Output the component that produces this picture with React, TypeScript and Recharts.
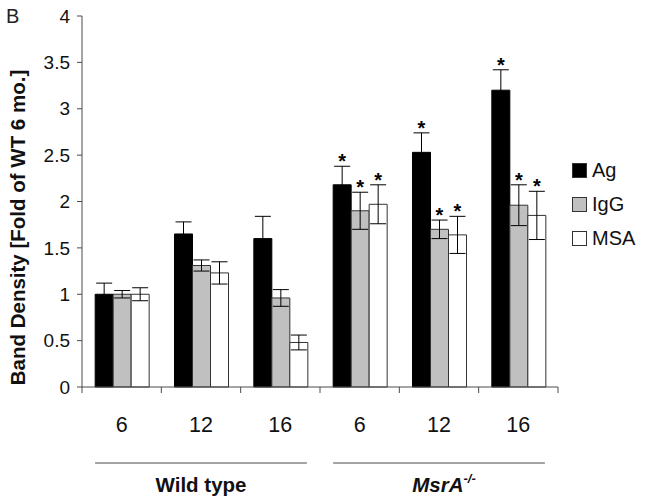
import { BarChart, Bar, XAxis, YAxis, ErrorBar, LabelList, Legend } from 'recharts'

// categories (group + age in months)
const CATEGORIES = ['WT-6', 'WT-12', 'WT-16', 'KO-6', 'KO-12', 'KO-16']
const AGES = ['6', '12', '16', '6', '12', '16']
const GROUP_LABELS = ['Wild type', 'MsrA']
const Y_TICKS = [0, 0.5, 1, 1.5, 2, 2.5, 3, 3.5, 4]

// series values
const AG = [1.0, 1.65, 1.6, 2.18, 2.53, 3.2]
const AG_ERR = [0.12, 0.13, 0.24, 0.2, 0.21, 0.22]
const AG_SIG = [false, false, false, true, true, true]

const IGG = [1.0, 1.31, 0.96, 1.9, 1.7, 1.96]
const IGG_ERR = [0.04, 0.06, 0.09, 0.2, 0.1, 0.22]
const IGG_SIG = [false, false, false, true, true, true]

const MSA = [1.0, 1.23, 0.48, 1.97, 1.64, 1.85]
const MSA_ERR = [0.07, 0.12, 0.08, 0.21, 0.2, 0.26]
const MSA_SIG = [false, false, false, true, true, true]

const SERIES = ['Ag', 'IgG', 'MSA']

const data = CATEGORIES.map((key, i) => ({
  key,
  ag: AG[i],
  agErr: AG_ERR[i],
  igg: IGG[i],
  iggErr: IGG_ERR[i],
  msa: MSA[i],
  msaErr: MSA_ERR[i],
}))

const FONT = '"Liberation Sans", Arial, sans-serif'
const AXIS = '#4a4a4a'
const FILLS = ['#000000', '#c0c0c0', '#ffffff']

function makeStar(errs: number[], sig: boolean[], vals: number[]) {
  return (props: any) => {
    const { x, y, width, height, index } = props
    if (!sig[index]) return null
    const perUnit = height / vals[index]
    const errTop = y - errs[index] * perUnit
    return (
      <text x={x + width / 2} y={errTop + 2} textAnchor="middle" fontSize={20} fontWeight="bold" fontFamily={FONT} fill="#000">
        *
      </text>
    )
  }
}

function AxisTick(props: any) {
  const { x, y, payload, index, width } = props
  const off = payload?.offset ?? width / 12
  const last = index === CATEGORIES.length - 1
  const middle = index % 3 === 1
  const half = off * 0.67
  return (
    <g>
      <line x1={x - off} x2={x - off} y1={y} y2={y + 6} stroke={AXIS} />
      {last && <line x1={x + off} x2={x + off} y1={y} y2={y + 6} stroke={AXIS} />}
      <text x={x} y={y + 45} textAnchor="middle" fontSize={21.5} fontFamily={FONT} fill="#111">
        {AGES[index]}
      </text>
      {middle && (
        <g>
          <line x1={x - 2 * off - half} x2={x + 2 * off + half} y1={y + 76} y2={y + 76} stroke={AXIS} />
          {index === 1 ? (
            <text x={x} y={y + 105} textAnchor="middle" fontSize={20.5} fontWeight="bold" fontFamily={FONT} fill="#111">
              {GROUP_LABELS[0]}
            </text>
          ) : (
            <text x={x + 5} y={y + 105} textAnchor="middle" fontSize={20.5} fontWeight="bold" fontStyle="italic" fontFamily={FONT} fill="#111">
              {GROUP_LABELS[1]}
              <tspan fontSize={13} dy={-9}>-/-</tspan>
            </text>
          )}
        </g>
      )}
    </g>
  )
}

function YTitle(props: any) {
  const vb = props.viewBox ?? { x: 0, y: 16, width: 82, height: 371 }
  const cx = vb.x + 17
  const cy = vb.y + vb.height / 2 + 26
  return (
    <text x={cx} y={cy} transform={`rotate(-90 ${cx} ${cy})`} textAnchor="middle" dominantBaseline="central" fontSize={20.5} fontWeight="bold" fontFamily={FONT} fill="#111">
      Band Density [Fold of WT 6 mo.]
    </text>
  )
}

function LegendBox() {
  return (
    <div style={{ fontFamily: FONT, fontSize: 20, color: '#111' }}>
      {SERIES.map((name, i) => (
        <div key={name} style={{ display: 'flex', alignItems: 'center', height: 34 }}>
          <span style={{ display: 'inline-block', width: 13, height: 13, background: FILLS[i], border: '1px solid #333', marginRight: 5 }} />
          {name}
        </div>
      ))}
    </div>
  )
}

export default function App() {
  return (
    <div style={{ position: 'absolute', left: 0, top: 0, width: 648, height: 503, background: '#fff' }}>
      <div style={{ position: 'absolute', left: 6, top: 6, fontFamily: FONT, fontSize: 20, lineHeight: '20px', color: '#222' }}>B</div>
      <BarChart width={648} height={503} data={data} margin={{ top: 16, right: 90, bottom: 0, left: 0 }} barCategoryGap="16.6%" barGap={0}>
        <XAxis dataKey="key" height={116} stroke={AXIS} tickLine={false} tickSize={0} tickMargin={0} tick={<AxisTick />} interval={0} />
        <YAxis
          width={82}
          domain={[0, 4]}
          ticks={Y_TICKS}
          stroke={AXIS}
          tickSize={5}
          tickMargin={7}
          tick={{ fontSize: 19, fill: '#111', fontFamily: FONT }}
          label={<YTitle />}
        />
        <Legend
          layout="vertical"
          align="center"
          verticalAlign="middle"
          wrapperStyle={{ left: 572, top: 153, width: 76 }}
          content={<LegendBox />}
        />
        <Bar dataKey="ag" name={SERIES[0]} fill={FILLS[0]} stroke="#000" isAnimationActive={false}>
          <ErrorBar dataKey="agErr" width={8} stroke="#000" strokeWidth={1} direction="y" />
          <LabelList dataKey="ag" content={makeStar(AG_ERR, AG_SIG, AG)} />
        </Bar>
        <Bar dataKey="igg" name={SERIES[1]} fill={FILLS[1]} stroke="#333" isAnimationActive={false}>
          <ErrorBar dataKey="iggErr" width={8} stroke="#000" strokeWidth={1} direction="y" />
          <LabelList dataKey="igg" content={makeStar(IGG_ERR, IGG_SIG, IGG)} />
        </Bar>
        <Bar dataKey="msa" name={SERIES[2]} fill={FILLS[2]} stroke="#333" isAnimationActive={false}>
          <ErrorBar dataKey="msaErr" width={8} stroke="#000" strokeWidth={1} direction="y" />
          <LabelList dataKey="msa" content={makeStar(MSA_ERR, MSA_SIG, MSA)} />
        </Bar>
      </BarChart>
    </div>
  )
}
